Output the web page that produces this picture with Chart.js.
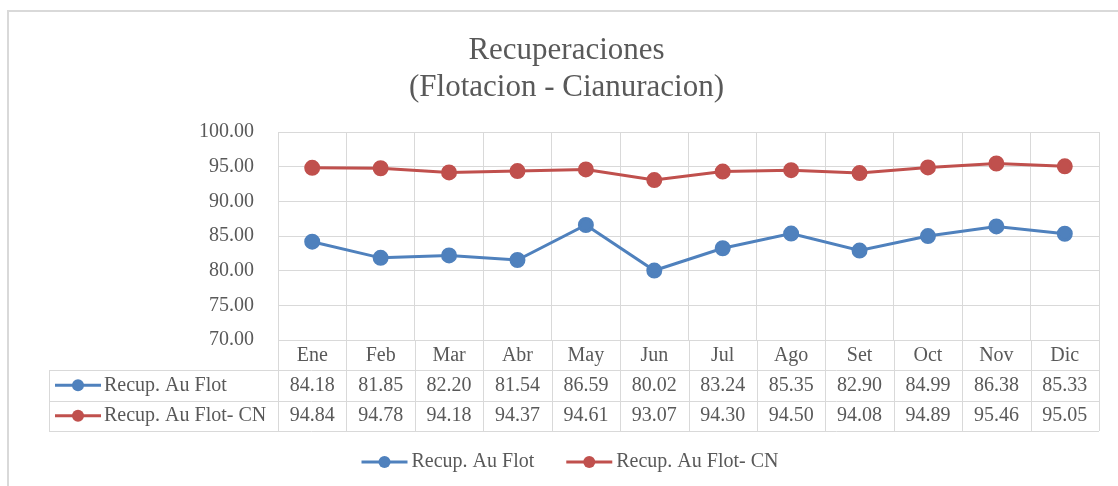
<!DOCTYPE html>
<html>
<head>
<meta charset="utf-8">
<script src="https://cdn.jsdelivr.net/npm/chart.js@4"></script>
<style>
  html, body { margin: 0; padding: 0; background: #fff; }
  #wrap { width: 1118px; height: 486px; }
</style>
</head>
<body>
<div id="wrap"><canvas id="chart"></canvas></div>
<script>
// datos del grafico
const meses = ['Ene', 'Feb', 'Mar', 'Abr', 'May', 'Jun', 'Jul', 'Ago', 'Set', 'Oct', 'Nov', 'Dic'];
const recupFlot = [84.18, 81.85, 82.20, 81.54, 86.59, 80.02, 83.24, 85.35, 82.90, 84.99, 86.38, 85.33];
const recupFlotCN = [94.84, 94.78, 94.18, 94.37, 94.61, 93.07, 94.30, 94.50, 94.08, 94.89, 95.46, 95.05];
const yTicks = [70, 75, 80, 85, 90, 95, 100];

const FONT = '"Liberation Serif", "Times New Roman", serif';
const TEXT = '#595959';
const GRID = '#d9d9d9';
const AZUL = '#4f81bd';
const ROJO = '#c0504d';

// marcador tipo Excel: linea con circulo
function drawMarker(ctx, x, y, color) {
  ctx.save();
  ctx.strokeStyle = color;
  ctx.lineWidth = 3;
  ctx.beginPath();
  ctx.moveTo(x, y);
  ctx.lineTo(x + 46, y);
  ctx.stroke();
  ctx.fillStyle = color;
  ctx.beginPath();
  ctx.arc(x + 23, y, 6, 0, Math.PI * 2);
  ctx.fill();
  ctx.restore();
}

// marco exterior
const framePlugin = {
  id: 'frame',
  beforeDraw(chart) {
    const ctx = chart.ctx;
    ctx.save();
    ctx.fillStyle = '#fff';
    ctx.fillRect(0, 0, chart.width, chart.height);
    ctx.strokeStyle = GRID;
    ctx.lineWidth = 2;
    ctx.beginPath();
    ctx.moveTo(8, chart.height);
    ctx.lineTo(8, 11);
    ctx.lineTo(chart.width, 11);
    ctx.stroke();
    ctx.restore();
  }
};

// tabla de datos + leyenda
const tablePlugin = {
  id: 'dataTable',
  afterDraw(chart) {
    const ctx = chart.ctx;
    const area = chart.chartArea;
    const xs = chart.scales.x;
    const colW = xs.getPixelForValue(1) - xs.getPixelForValue(0);
    const top = area.bottom;
    const catBottom = top + 30;
    const rows = [
      { name: 'Recup. Au Flot', data: recupFlot, color: AZUL },
      { name: 'Recup. Au Flot- CN', data: recupFlotCN, color: ROJO }
    ];
    const rowH = 30.5;
    const tableBottom = catBottom + rowH * rows.length;
    const tableLeft = 49;

    ctx.save();
    ctx.strokeStyle = GRID;
    ctx.lineWidth = 1;
    ctx.beginPath();
    for (let i = 0; i <= meses.length; i++) {
      const x = Math.round(xs.getPixelForValue(0) - colW / 2 + i * colW) + 0.5;
      ctx.moveTo(x, top);
      ctx.lineTo(x, tableBottom);
    }
    for (let r = 0; r <= rows.length; r++) {
      const y = Math.round(catBottom + r * rowH) + 0.5;
      ctx.moveTo(tableLeft, y);
      ctx.lineTo(area.right, y);
    }
    ctx.moveTo(tableLeft + 0.5, catBottom);
    ctx.lineTo(tableLeft + 0.5, tableBottom);
    ctx.stroke();

    ctx.font = '20px ' + FONT;
    ctx.fillStyle = TEXT;
    ctx.textBaseline = 'middle';
    rows.forEach((row, r) => {
      const cy = catBottom + r * rowH + rowH / 2;
      drawMarker(ctx, tableLeft + 6, cy, row.color);
      ctx.fillStyle = TEXT;
      ctx.textAlign = 'left';
      ctx.fillText(row.name, tableLeft + 55, cy);
      ctx.textAlign = 'center';
      row.data.forEach((v, i) => {
        ctx.fillText(v.toFixed(2), xs.getPixelForValue(i), cy);
      });
    });

    // leyenda
    const gap = 4, sep = 32;
    const widths = rows.map(r => 46 + gap + ctx.measureText(r.name).width);
    const total = widths[0] + widths[1] + sep;
    let x = 570 - total / 2;
    const ly = 462;
    ctx.textAlign = 'left';
    rows.forEach((row, r) => {
      drawMarker(ctx, x, ly, row.color);
      ctx.fillStyle = TEXT;
      ctx.fillText(row.name, x + 46 + gap, ly);
      x += widths[r] + sep;
    });
    ctx.restore();
  }
};

new Chart(document.getElementById('chart'), {
  type: 'line',
  data: {
    labels: meses,
    datasets: [
      {
        label: 'Recup. Au Flot',
        data: recupFlot,
        borderColor: AZUL,
        backgroundColor: AZUL,
        borderWidth: 3,
        pointRadius: 6.5,
        pointHoverRadius: 6.5,
        tension: 0
      },
      {
        label: 'Recup. Au Flot- CN',
        data: recupFlotCN,
        borderColor: ROJO,
        backgroundColor: ROJO,
        borderWidth: 3,
        pointRadius: 6.5,
        pointHoverRadius: 6.5,
        tension: 0
      }
    ]
  },
  options: {
    responsive: true,
    maintainAspectRatio: false,
    animation: false,
    layout: { padding: { left: 34, right: 19, top: 0, bottom: 116 } },
    plugins: {
      legend: { display: false },
      tooltip: { enabled: false },
      title: {
        display: true,
        text: ['Recuperaciones', '(Flotacion - Cianuracion)'],
        color: TEXT,
        font: { family: FONT, size: 31, weight: 'normal', lineHeight: 1.22 },
        padding: { top: 31.5, bottom: 24.9 }
      }
    },
    scales: {
      x: {
        offset: true,
        grid: { color: GRID, offset: true, drawTicks: false },
        border: { color: GRID },
        ticks: { color: TEXT, font: { family: FONT, size: 20 }, padding: 4 },
        afterFit(s) { s.height = 30; }
      },
      y: {
        min: 70,
        max: 100,
        afterBuildTicks(s) { s.ticks = yTicks.map(v => ({ value: v })); },
        grid: { color: GRID, drawTicks: false },
        border: { color: GRID },
        ticks: {
          color: TEXT,
          font: { family: FONT, size: 20 },
          padding: 24,
          callback: v => v.toFixed(2)
        },
        afterFit(s) { s.width = 244; }
      }
    }
  },
  plugins: [framePlugin, tablePlugin]
});
</script>
</body>
</html>
